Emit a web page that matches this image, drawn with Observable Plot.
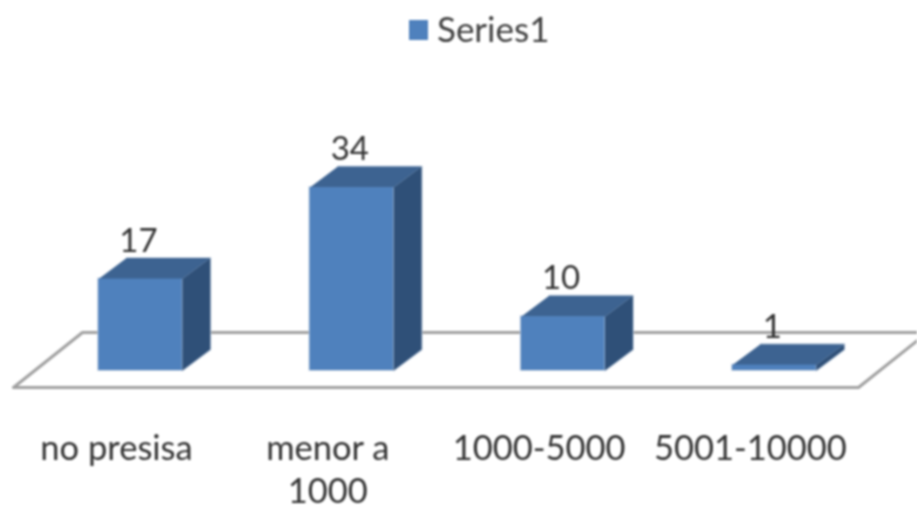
<!DOCTYPE html>
<html>
<head>
<meta charset="utf-8">
<script src="https://cdn.jsdelivr.net/npm/d3@7"></script>
<script src="https://cdn.jsdelivr.net/npm/@observablehq/plot@0.6"></script>
<style>
  html, body { margin: 0; padding: 0; background: #fff; overflow: hidden; }
  #legend { height: 50px; position: relative; font: 35px Lato, sans-serif; color: #404040; filter: blur(0.9px); }
  #legend i { position: absolute; left: 409px; top: 20px; width: 19px; height: 20px; background: #4f81bd; }
  #legend span { position: absolute; left: 437px; top: 8px; line-height: 40px; }
  #chart svg { display: block; filter: blur(0.9px); }
</style>
</head>
<body>
<div id="legend"><i></i><span>Series1</span></div>
<div id="chart"></div>
<script>
const categories = ["no presisa", "menor a\n1000", "1000-5000", "5001-10000"];
const values = [17, 34, 10, 1];
const seriesName = "Series1";

const halfWidth = 0.198, depthX = 0.1325, depthY = 3.9;
const floorLow = -3.16, floorHigh = 7.06;
const floorLeft = [-0.601, -0.2745], floorRight = [3.398, 3.724];

const rows = values.map((v, i) => ({i, v, cat: categories[i]}));
const face = (kind, corners) => rows.flatMap(r =>
  corners(r).map(([x, y]) => ({id: r.i + kind, x, y})));
const side = face("s", ({i, v}) => [
  [i + halfWidth, 0], [i + halfWidth + depthX, depthY],
  [i + halfWidth + depthX, v + depthY], [i + halfWidth, v]
]);
const top_ = face("t", ({i, v}) => [
  [i - halfWidth, v], [i + halfWidth, v],
  [i + halfWidth + depthX, v + depthY], [i - halfWidth + depthX, v + depthY]
]);
const floor = [
  {x: floorRight[1], y: floorHigh}, {x: floorLeft[1], y: floorHigh},
  {x: floorLeft[0], y: floorLow}, {x: floorRight[0], y: floorLow},
  {x: floorRight[1], y: floorHigh}
];
const halo = {stroke: "#c5d2e2", strokeWidth: 1.8, fill: "#c5d2e2"};
const front = {
  x1: d => d.i - halfWidth, x2: d => d.i + halfWidth, y1: 0, y2: "v"
};

const chart = Plot.plot({
  width: 917,
  height: 456,
  marginTop: 0, marginLeft: 0, marginRight: 0, marginBottom: 77,
  x: {domain: [-0.5, 3.5], range: [34.35, 879.55], axis: null},
  y: {domain: [0, 40], range: [320, 104.8], axis: null},
  marks: [
    Plot.line(floor, {x: "x", y: "y", stroke: "#a0a0a0", strokeWidth: 3}),
    Plot.line(side, {x: "x", y: "y", z: "id", ...halo}),
    Plot.line(top_, {x: "x", y: "y", z: "id", ...halo}),
    Plot.rect(rows, {...front, ...halo}),
    Plot.line(side, {x: "x", y: "y", z: "id", fill: "#2f5078"}),
    Plot.line(top_, {x: "x", y: "y", z: "id", fill: "#3d6391"}),
    Plot.rect(rows, {...front, fill: "#4f81bd"}),
    Plot.text(rows, {
      x: "i", y: "v", text: "v", dy: -38, dx: -2,
      fontSize: 33, fill: "#333333", fontFamily: "Lato, sans-serif"
    }),
    Plot.axisX({
      ticks: [0, 1, 2, 3],
      tickFormat: i => categories[i],
      tickSize: 0, tickPadding: 0, dx: -24,
      fontSize: 34.5, lineHeight: 1.25,
      fill: "#333333", fontFamily: "Lato, sans-serif",
      label: null
    })
  ]
});
document.getElementById("chart").append(chart);
</script>
</body>
</html>
